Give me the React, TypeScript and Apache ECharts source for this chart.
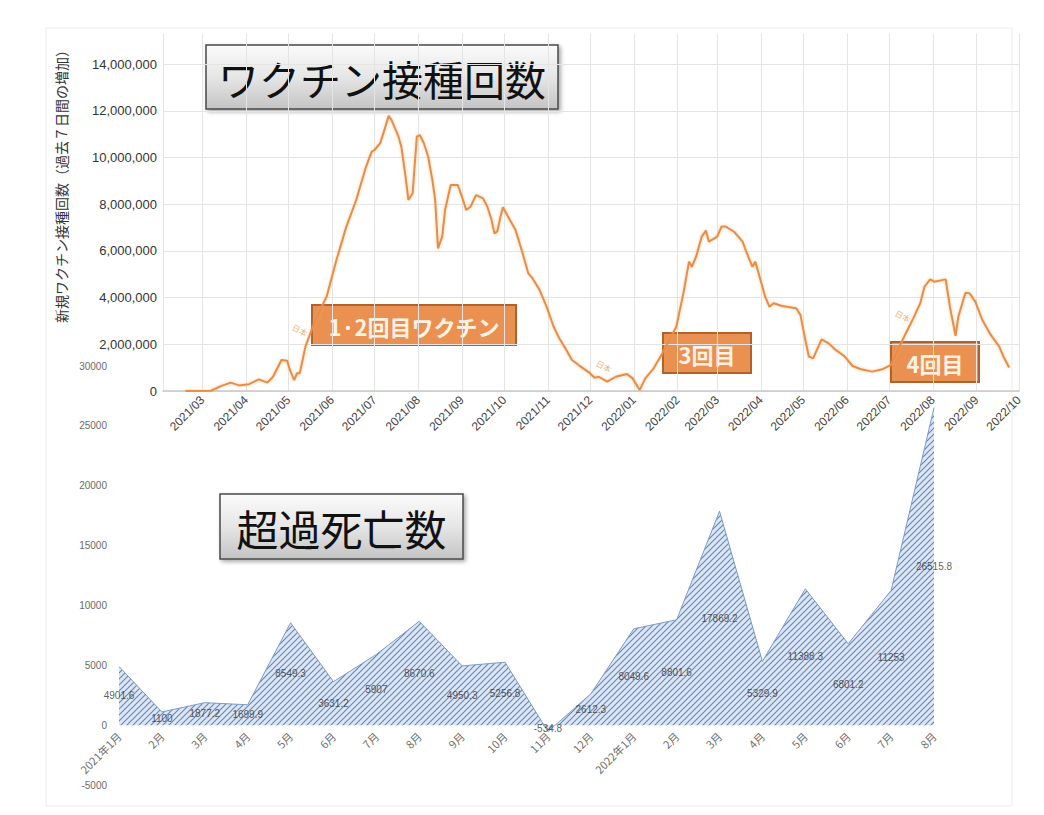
import React, { useEffect, useRef } from "react";
import * as echarts from "echarts";

// ---- Top chart: new vaccinations (7-day increase) ----
const vaccineDates = [
  "2021-02-17", "2021-03-07", "2021-03-14", "2021-03-21", "2021-03-27",
  "2021-04-03", "2021-04-10", "2021-04-16", "2021-04-20", "2021-04-26", "2021-04-30",
  "2021-05-02", "2021-05-05", "2021-05-07", "2021-05-09", "2021-05-13", "2021-05-20", "2021-05-28",
  "2021-06-04", "2021-06-11", "2021-06-18", "2021-06-25", "2021-06-29",
  "2021-07-01", "2021-07-05", "2021-07-08", "2021-07-11", "2021-07-13", "2021-07-18", "2021-07-20",
  "2021-07-23", "2021-07-25", "2021-07-28", "2021-07-31",
  "2021-08-02", "2021-08-05", "2021-08-08", "2021-08-11", "2021-08-13", "2021-08-15", "2021-08-18",
  "2021-08-20", "2021-08-24", "2021-08-29",
  "2021-09-01", "2021-09-04", "2021-09-07", "2021-09-11", "2021-09-16", "2021-09-19", "2021-09-22",
  "2021-09-24", "2021-09-26", "2021-09-28", "2021-09-30",
  "2021-10-05", "2021-10-09", "2021-10-14", "2021-10-18", "2021-10-21", "2021-10-26", "2021-10-31",
  "2021-11-05", "2021-11-09", "2021-11-14", "2021-11-18", "2021-11-23", "2021-11-30",
  "2021-12-04", "2021-12-07", "2021-12-13", "2021-12-19", "2021-12-27", "2021-12-31",
  "2022-01-05", "2022-01-09", "2022-01-15", "2022-01-21", "2022-01-31",
  "2022-02-05", "2022-02-09", "2022-02-11", "2022-02-14", "2022-02-18", "2022-02-21", "2022-02-23", "2022-02-27",
  "2022-03-01", "2022-03-04", "2022-03-07", "2022-03-13", "2022-03-19", "2022-03-22", "2022-03-26",
  "2022-03-28", "2022-03-31",
  "2022-04-04", "2022-04-07", "2022-04-10", "2022-04-16", "2022-04-26", "2022-04-29",
  "2022-05-02", "2022-05-05", "2022-05-08", "2022-05-14", "2022-05-19", "2022-05-24", "2022-05-30",
  "2022-06-05", "2022-06-11", "2022-06-19", "2022-06-26",
  "2022-07-02", "2022-07-11", "2022-07-18", "2022-07-23", "2022-07-26", "2022-07-30",
  "2022-08-02", "2022-08-10", "2022-08-13", "2022-08-17", "2022-08-19", "2022-08-24", "2022-08-27", "2022-08-31",
  "2022-09-05", "2022-09-11", "2022-09-17", "2022-09-20", "2022-09-24",
];
const vaccineValues = [
  0, 10000, 210000, 360000, 240000,
  290000, 500000, 360000, 610000, 1330000, 1300000,
  900000, 470000, 760000, 760000, 1900000, 3040000, 4040000,
  5610000, 7040000, 8180000, 9610000, 10250000,
  10320000, 10610000, 11180000, 11780000, 11610000, 10890000, 10460000,
  9180000, 8180000, 8470000, 10890000,
  10960000, 10610000, 10040000, 9040000, 8180000, 6110000, 6610000,
  7750000, 8820000, 8820000,
  8320000, 7750000, 7890000, 8390000, 8250000, 7890000, 7320000,
  6750000, 6820000, 7390000, 7870000,
  7320000, 6890000, 5900000, 5040000, 4830000, 4330000, 3610000,
  2750000, 2260000, 1760000, 1330000, 1100000, 800000,
  570000, 610000, 400000, 610000, 730000, 540000,
  40000, 540000, 970000, 1610000, 2750000,
  4180000, 5540000, 5320000, 5750000, 6610000, 6870000, 6400000, 6540000,
  6610000, 7040000, 7040000, 6820000, 6400000, 5900000, 5320000,
  5540000, 4900000,
  4040000, 3610000, 3760000, 3640000, 3540000, 3260000,
  2330000, 1470000, 1400000, 2210000, 2040000, 1760000, 1500000,
  1070000, 930000, 830000, 930000,
  1110000, 2260000, 3110000, 3760000, 4470000, 4780000,
  4680000, 4780000, 3610000, 2360000, 3180000, 4210000, 4180000, 3830000,
  3040000, 2400000, 1900000, 1470000, 1010000,
];
const vaccineAxisName = "新規ワクチン接種回数（過去７日間の増加）";
const vaccineAxisMin = "2021-02-01";
const vaccineAxisMax = "2022-10-01";

// ---- Bottom chart: excess deaths ----
const deathCategories = [
  "2021年1月", "2月", "3月", "4月", "5月", "6月", "7月", "8月", "9月", "10月", "11月", "12月",
  "2022年1月", "2月", "3月", "4月", "5月", "6月", "7月", "8月",
];
const deathValues = [
  4901.6, 1100, 1877.2, 1699.9, 8549.3, 3631.2, 5907, 8670.6, 4950.3, 5256.8, -534.8, 2612.3,
  8049.6, 8801.6, 17869.2, 5329.9, 11388.3, 6801.2, 11253, 26515.8,
];

const JP = '"Noto Sans CJK JP", "Noto Sans", sans-serif';
const LAT = '"Liberation Sans", Arial, sans-serif';

function makeHatch(): HTMLCanvasElement {
  const c = document.createElement("canvas");
  c.width = 6;
  c.height = 6;
  const g = c.getContext("2d")!;
  g.fillStyle = "#dde6f2";
  g.fillRect(0, 0, 6, 6);
  g.strokeStyle = "#6689c0";
  g.lineWidth = 1.2;
  g.beginPath();
  g.moveTo(0, 6);
  g.lineTo(6, 0);
  g.moveTo(-1, 1);
  g.lineTo(1, -1);
  g.moveTo(5, 7);
  g.lineTo(7, 5);
  g.stroke();
  return c;
}

function pad2(n: number) {
  return n < 10 ? "0" + n : String(n);
}

export default function App() {
  const ref = useRef<HTMLDivElement>(null);
  useEffect(() => {
    if (!ref.current) return;
    const chart = echarts.init(ref.current, null, { renderer: "svg" });
    const hatch = makeHatch();
    const minTs = echarts.time.parse(vaccineAxisMin).getTime();

    const titleBox = (x: number, y: number, w: number, h: number, text: string, size: number) => ({
      type: "group",
      z: 100,
      children: [
        {
          type: "rect",
          shape: { x, y, width: w, height: h },
          style: {
            fill: {
              type: "linear", x: 0, y: 0, x2: 0, y2: 1,
              colorStops: [
                { offset: 0, color: "#fbfbfb" },
                { offset: 0.5, color: "#e6e6e6" },
                { offset: 1, color: "#c4c4c4" },
              ],
            },
            stroke: "#4a4a4a",
            lineWidth: 1.5,
            shadowBlur: 4,
            shadowOffsetX: 2,
            shadowOffsetY: 2,
            shadowColor: "rgba(0,0,0,0.35)",
          },
        },
        {
          type: "text",
          x: x + w / 2,
          y: y + h / 2 + 1,
          style: {
            text,
            fontSize: size,
            fontWeight: "normal",
            fontFamily: JP,
            fill: "#111",
            align: "center",
            verticalAlign: "middle",
            textAlign: "center",
            textVerticalAlign: "middle",
          },
        },
      ],
    });

    const orangeBox = (x: number, y: number, w: number, h: number, text: string) => ({
      type: "group",
      z: 100,
      children: [
        {
          type: "rect",
          shape: { x, y, width: w, height: h },
          style: { fill: "#ea9152", stroke: "#b0622a", lineWidth: 2 },
        },
        {
          type: "text",
          x: x + w / 2,
          y: y + h / 2 + 1,
          style: {
            text,
            fontSize: 22,
            fontWeight: "bold",
            fontFamily: JP,
            fill: "#fdf2e4",
            align: "center",
            verticalAlign: "middle",
            textAlign: "center",
            textVerticalAlign: "middle",
          },
        },
      ],
    });

    const tag = (x: number, y: number) => ({
      type: "text",
      z: 90,
      x,
      y,
      rotation: -0.5,
      style: {
        text: "日本",
        fontSize: 8,
        fontFamily: JP,
        fill: "#efb27e",
        align: "center",
        verticalAlign: "middle",
        textAlign: "center",
        textVerticalAlign: "middle",
      },
    });

    chart.setOption({
      animation: false,
      backgroundColor: "#ffffff",
      grid: [
        { left: 163, right: 25, top: 33.7, height: 357.3, containLabel: false, outerBoundsMode: "none" },
        { left: 119, right: 110, top: 366, height: 419, containLabel: false, outerBoundsMode: "none" },
      ],
      xAxis: [
        {
          type: "time",
          gridIndex: 0,
          min: vaccineAxisMin,
          max: vaccineAxisMax,
          minInterval: 31 * 86400000,
          maxInterval: 31 * 86400000,
          axisLine: { show: true, lineStyle: { color: "#c8c8c8", width: 1.5 } },
          axisTick: { show: false },
          axisLabel: {
            rotate: 45,
            showMinLabel: false,
            showMaxLabel: true,
            fontSize: 12,
            color: "#444",
            fontFamily: LAT,
            margin: 7,
            formatter: (v: number) => {
              if (v <= minTs) return "";
              const d = new Date(v);
              return d.getFullYear() + "/" + pad2(d.getMonth() + 1);
            },
          },
          splitLine: {
            show: true,
            showMinLine: false,
            showMaxLine: false,
            lineStyle: { color: "#e4e4e4", width: 1 },
          },
        },
        {
          type: "category",
          gridIndex: 1,
          data: deathCategories,
          boundaryGap: false,
          position: "bottom",
          offset: -60,
          axisLine: { show: false, onZero: false },
          axisTick: { show: false },
          axisLabel: {
            interval: 0,
            rotate: 45,
            fontSize: 11,
            color: "#707070",
            fontFamily: JP,
            margin: 9,
          },
          splitLine: { show: false },
        },
      ],
      yAxis: [
        {
          type: "value",
          gridIndex: 0,
          min: 0,
          max: 15300000,
          interval: 2000000,
          axisLine: { show: false },
          axisTick: { show: false },
          axisLabel: {
            showMaxLabel: false,
            fontSize: 13,
            color: "#333",
            fontFamily: LAT,
            margin: 6,
            formatter: (v: number) => v.toLocaleString("en-US"),
          },
          splitLine: {
            show: true,
            showMaxLine: false,
            lineStyle: { color: "#e4e4e4", width: 1 },
          },
        },
        {
          type: "value",
          gridIndex: 1,
          min: -5000,
          max: 30000,
          interval: 5000,
          axisLine: { show: false },
          axisTick: { show: false },
          axisLabel: {
            fontSize: 10,
            color: "#6a6a6a",
            fontFamily: LAT,
            margin: 12,
            formatter: (v: number) => String(v),
          },
          splitLine: { show: false },
        },
      ],
      series: [
        {
          type: "line",
          name: "日本",
          xAxisIndex: 0,
          yAxisIndex: 0,
          data: vaccineDates.map((d, i) => [d, vaccineValues[i]]),
          showSymbol: false,
          symbol: "none",
          smooth: false,
          lineStyle: {
            color: "#e98d45",
            width: 2,
            shadowColor: "rgba(240,165,100,0.55)",
            shadowBlur: 3,
          },
          z: 3,
        },
        {
          type: "line",
          name: "超過死亡数",
          xAxisIndex: 1,
          yAxisIndex: 1,
          data: deathValues,
          showSymbol: false,
          symbol: "none",
          lineStyle: { color: "#7b9bc9", width: 1 },
          areaStyle: {
            opacity: 1,
            color: { image: hatch, repeat: "repeat", imageWidth: 6, imageHeight: 6 },
          },
          z: 2,
        },
        {
          type: "scatter",
          xAxisIndex: 1,
          yAxisIndex: 1,
          data: deathValues.map((v, i) => [i, v / 2]),
          symbolSize: 1,
          itemStyle: { color: "rgba(0,0,0,0)" },
          label: {
            show: true,
            position: "inside",
            fontSize: 10,
            color: "#333",
            fontFamily: LAT,
            formatter: (p: any) => String(deathValues[p.dataIndex]),
          },
          z: 4,
        },
      ],
      graphic: [
        {
          type: "rect",
          z: -1,
          shape: { x: 46, y: 28, width: 966, height: 778 },
          style: { fill: "none", stroke: "#ececec", lineWidth: 1 },
        },
        {
          type: "text",
          z: 100,
          x: 61,
          y: 183,
          rotation: Math.PI / 2,
          style: {
            text: vaccineAxisName,
            fontSize: 14,
            fontFamily: JP,
            fill: "#333",
            align: "center",
            verticalAlign: "middle",
            textAlign: "center",
            textVerticalAlign: "middle",
          },
        },
        titleBox(206, 45, 352, 64, "ワクチン接種回数", 41),
        titleBox(220, 494, 243, 65, "超過死亡数", 42),
        orangeBox(312, 305, 204, 40, "1·2回目ワクチン"),
        orangeBox(663, 333, 88, 40, "3回目"),
        orangeBox(891, 342, 88, 40, "4回目"),
        tag(300, 330),
        tag(604, 366),
        tag(903, 316),
      ],
    });
    return () => chart.dispose();
  }, []);
  return (
    <div
      ref={ref}
      style={{ position: "fixed", left: 0, top: 0, width: 1044, height: 815, background: "#fff" }}
    />
  );
}
